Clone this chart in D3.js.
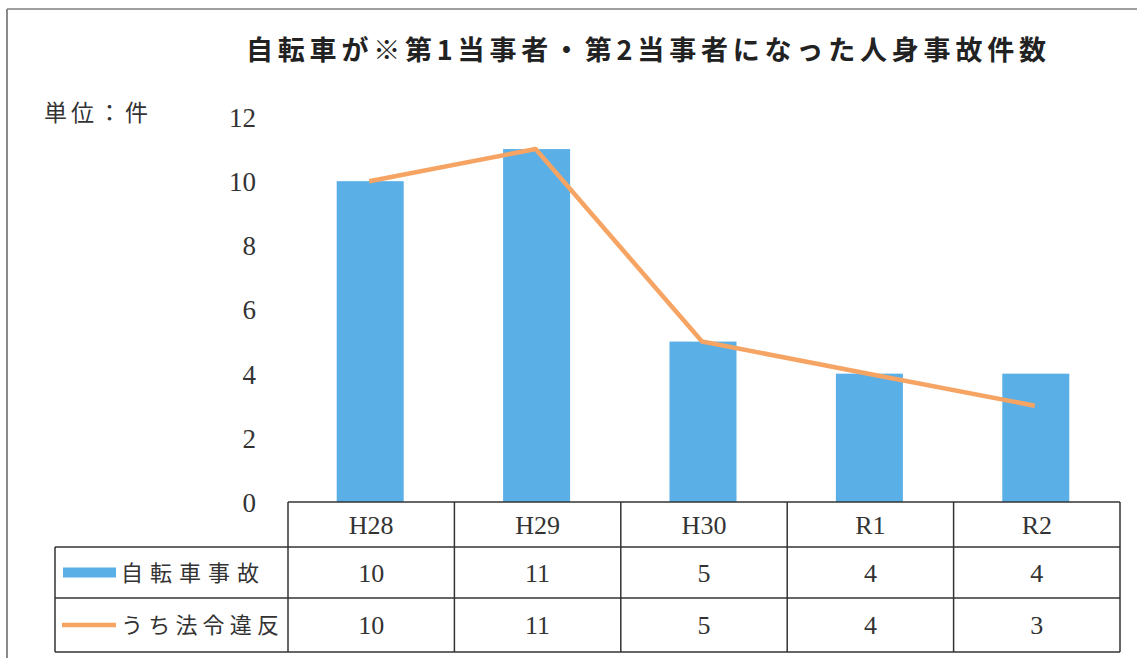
<!DOCTYPE html>
<html><head><meta charset="utf-8">
<script src="https://cdn.jsdelivr.net/npm/d3@7"></script>
<style>
body{margin:0;background:#fff;}
text{font-family:"Liberation Serif","Noto Sans CJK JP",serif;fill:#333;}
.jp{font-family:"Noto Sans CJK JP","Liberation Serif",sans-serif;}
</style></head>
<body>
<svg id="c" width="1137" height="658"></svg>
<script>
const title = "自転車が※第1当事者・第2当事者になった人身事故件数";
const unitLabel = "単位：件";
const categories = ["H28","H29","H30","R1","R2"];
const seriesNames = ["自転車事故","うち法令違反"];
const accidents = [10,11,5,4,4];
const violations = [10,11,5,4,3];
const yTicks = [0,2,4,6,8,10,12];

const svg = d3.select("#c");
const W=1137,H=658;
svg.append("rect").attr("x",0).attr("y",0).attr("width",W).attr("height",H).attr("fill","#fff");
// outer frame (top and left edges)
svg.append("line").attr("x1",7).attr("x2",W).attr("y1",9).attr("y2",9).attr("stroke","#a0a0a0").attr("stroke-width",2);
svg.append("line").attr("x1",7).attr("x2",7).attr("y1",9).attr("y2",H).attr("stroke","#8a8a8a").attr("stroke-width",2);

const x0=288,x1=1120,yTop=117,yBase=502;
const x = d3.scaleBand().domain(categories).range([x0,x1]).paddingInner(0).paddingOuter(0);
const y = d3.scaleLinear().domain([0,12]).range([yBase,yTop]);

// title
svg.append("text").attr("class","jp").attr("x",646).attr("y",60).attr("text-anchor","middle")
  .attr("font-size",27).attr("font-weight","bold").attr("textLength",800).attr("lengthAdjust","spacing")
  .style("fill","#222").text(title);
svg.append("text").attr("class","jp").attr("x",44).attr("y",121).attr("font-size",23)
  .attr("textLength",104).attr("lengthAdjust","spacing").style("fill","#333").text(unitLabel);

// y axis labels
const yAxis = d3.axisLeft(y).tickValues(yTicks).tickSize(0).tickPadding(0);
const ga = svg.append("g").attr("transform","translate(256,0)").call(yAxis);
ga.select(".domain").remove();
ga.selectAll("text").attr("font-size",27).attr("dy","0.35em").style("font-family","Liberation Serif").style("fill","#333");

// bars
const bw = 67;
svg.append("g").selectAll("rect").data(accidents).join("rect")
  .attr("x",(d,i)=>x(categories[i])+x.bandwidth()/2-bw/2 - 1)
  .attr("y",d=>y(d)).attr("width",bw).attr("height",d=>yBase-y(d))
  .attr("fill","#5aafe6");

// line
const line = d3.line().x((d,i)=>x(categories[i])+x.bandwidth()/2 - 2).y(d=>y(d));
svg.append("path").datum(violations).attr("d",line).attr("fill","none")
  .attr("stroke","#f6a463").attr("stroke-width",4.5).attr("stroke-linejoin","round");

// table
const rowY=[502,547,598,652];
const tg = svg.append("g").attr("stroke","#333").attr("stroke-width",1.5);
tg.append("line").attr("x1",x0).attr("x2",x1).attr("y1",rowY[0]).attr("y2",rowY[0]);
[1,2,3].forEach(k=>tg.append("line").attr("x1",55).attr("x2",x1).attr("y1",rowY[k]).attr("y2",rowY[k]));
tg.append("line").attr("x1",55).attr("x2",55).attr("y1",rowY[1]).attr("y2",rowY[3]);
categories.forEach(c=>tg.append("line").attr("x1",x(c)).attr("x2",x(c)).attr("y1",rowY[0]).attr("y2",rowY[3]));
tg.append("line").attr("x1",x1).attr("x2",x1).attr("y1",rowY[0]).attr("y2",rowY[3]);

const cx = c=>x(c)+x.bandwidth()/2;
svg.append("g").selectAll("text").data(categories).join("text")
  .attr("x",d=>cx(d)).attr("y",(rowY[0]+rowY[1])/2+9).attr("text-anchor","middle")
  .attr("font-size",26).text(d=>d);
[accidents,violations].forEach((arr,r)=>{
  svg.append("g").selectAll("text").data(arr).join("text")
    .attr("x",(d,i)=>cx(categories[i])).attr("y",(rowY[r+1]+rowY[r+2])/2+9).attr("text-anchor","middle")
    .attr("font-size",26).text(d=>d);
});
// legend in table
const ly1=(rowY[1]+rowY[2])/2, ly2=(rowY[2]+rowY[3])/2;
svg.append("rect").attr("x",63).attr("y",ly1-5).attr("width",53).attr("height",10).attr("fill","#5aafe6");
svg.append("line").attr("x1",62).attr("x2",116).attr("y1",ly2).attr("y2",ly2).attr("stroke","#f6a463").attr("stroke-width",4.5);
svg.append("text").attr("class","jp").attr("x",121).attr("y",ly1+8).attr("font-size",22).attr("textLength",138).attr("lengthAdjust","spacing").text(seriesNames[0]);
svg.append("text").attr("class","jp").attr("x",121).attr("y",ly2+8).attr("font-size",22).attr("textLength",158).attr("lengthAdjust","spacing").text(seriesNames[1]);
</script>
</body></html>
